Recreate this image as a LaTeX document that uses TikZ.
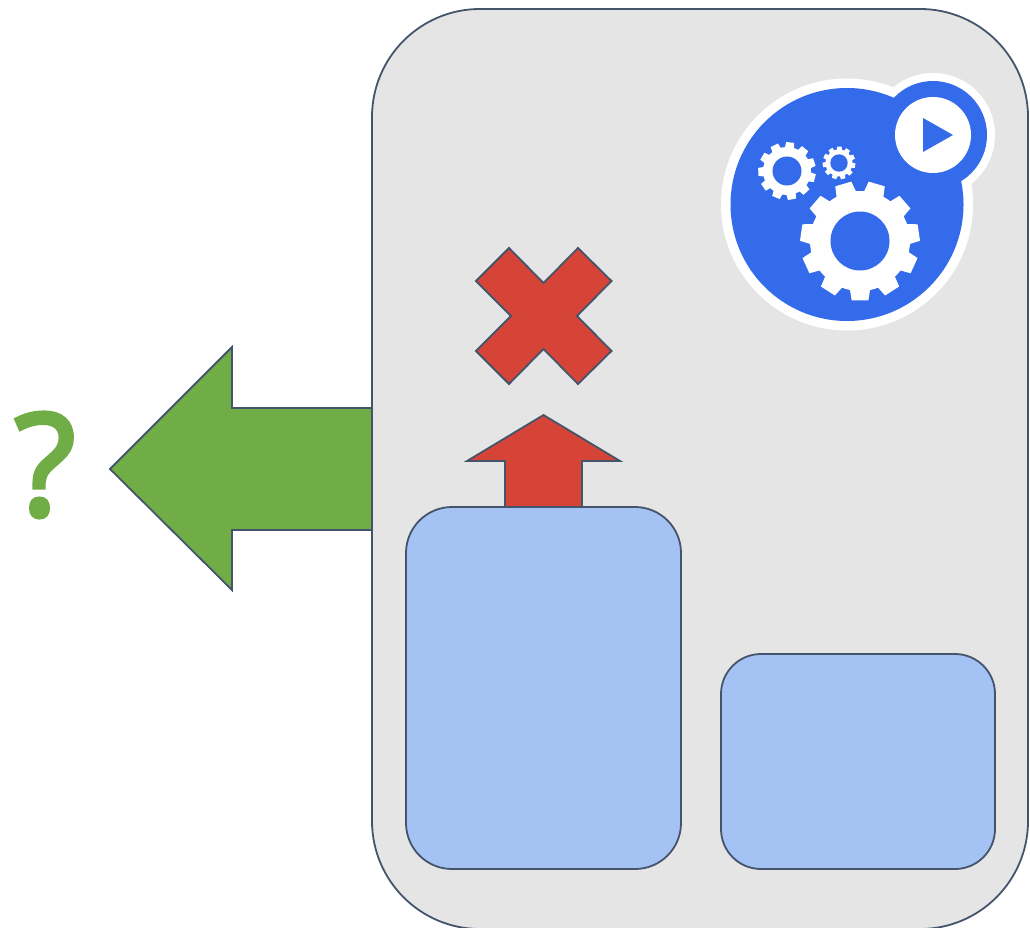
\documentclass[tikz,border=0pt]{standalone}
\usepackage{fontspec}
\setmainfont{Open Sans}
\newfontfamily\askfont[FakeBold=3]{Open Sans}
\definecolor{panelgray}{HTML}{E5E5E5}
\definecolor{edgeslate}{HTML}{44546A}
\definecolor{boxblue}{HTML}{A4C2F4}
\definecolor{stopred}{HTML}{D64437}
\definecolor{exitgreen}{HTML}{70AD47}
\definecolor{badgeblue}{HTML}{346BEA}
\tikzset{
    panel/.style = {draw=edgeslate, line width=1.8pt, inner sep=0pt, outer sep=0pt},
    shape line/.style = {draw=edgeslate, line width=1.8pt, line join=miter}
}
% gear: centre x, centre y, root radius, tip radius, hole radius, turn
\newcommand{\gearwheel}[6]{
    \fill[white] (#1,#2) circle[radius=#3];
    \foreach \t in {0,...,10}{
        \pgfmathsetmacro{\a}{#6+\t*360/11}
        \fill[white] ([shift={(\a-12:#3-1)}]#1,#2) -- ([shift={(\a-8:#4)}]#1,#2)
            -- ([shift={(\a+8:#4)}]#1,#2) -- ([shift={(\a+12:#3-1)}]#1,#2) -- cycle;
    }
    \fill[badgeblue] (#1,#2) circle[radius=#5];
}

\begin{document}
\begin{tikzpicture}[x=1pt,y=-1pt]
    \useasboundingbox (0,0) rectangle (1030,928);
    \clip (0,0) rectangle (1030,928);

    \node[panel, fill=panelgray, minimum width=656pt, minimum height=920pt, rounded corners=108pt] (main) at (700,469) {};

    % blocked arrow and cross
    \draw[shape line, fill=stopred] (543.5,415) -- (620,461) -- (582,461) -- (582,507)
        -- (505,507) -- (505,461) -- (467,461) -- cycle;
    \draw[shape line, fill=stopred] (543.5,283) -- (578,248) -- (611.5,281) -- (577,316)
        -- (611.5,351) -- (578,384) -- (543.5,349) -- (509,384) -- (476,351) -- (511,316)
        -- (476,281) -- (509,248) -- cycle;

    \node[panel, fill=boxblue, minimum width=275pt, minimum height=362pt, rounded corners=46pt] (left) at (543.5,688) {};
    \node[panel, fill=boxblue, minimum width=274pt, minimum height=215pt, rounded corners=40pt] (right) at (858,761.5) {};

    % exit arrow
    \draw[shape line, fill=exitgreen] (372,408) -- (232,408) -- (232,347) -- (110,469)
        -- (232,590) -- (232,530) -- (372,530) -- cycle;
    \node[text=exitgreen, inner sep=0pt, font=\askfont\fontsize{142}{142}\selectfont] (ask) at (45,465) {?};

    % badge
    \fill[white] (847,204.5) circle[radius=126];
    \fill[white] (933,135) circle[radius=62];
    \fill[badgeblue] (847,204.5) circle[radius=116.5];
    \fill[badgeblue] (933,135) circle[radius=54];
    \fill[white] (933,135) circle[radius=38];
    \fill[badgeblue] (923,118) -- (953,135) -- (923,152) -- cycle;
    \gearwheel{860}{241}{50}{60}{29.5}{90}
    \gearwheel{787}{171}{24}{29}{14.5}{80}
    \gearwheel{839}{163}{13.5}{16.5}{8.7}{75}
\end{tikzpicture}
\end{document}
